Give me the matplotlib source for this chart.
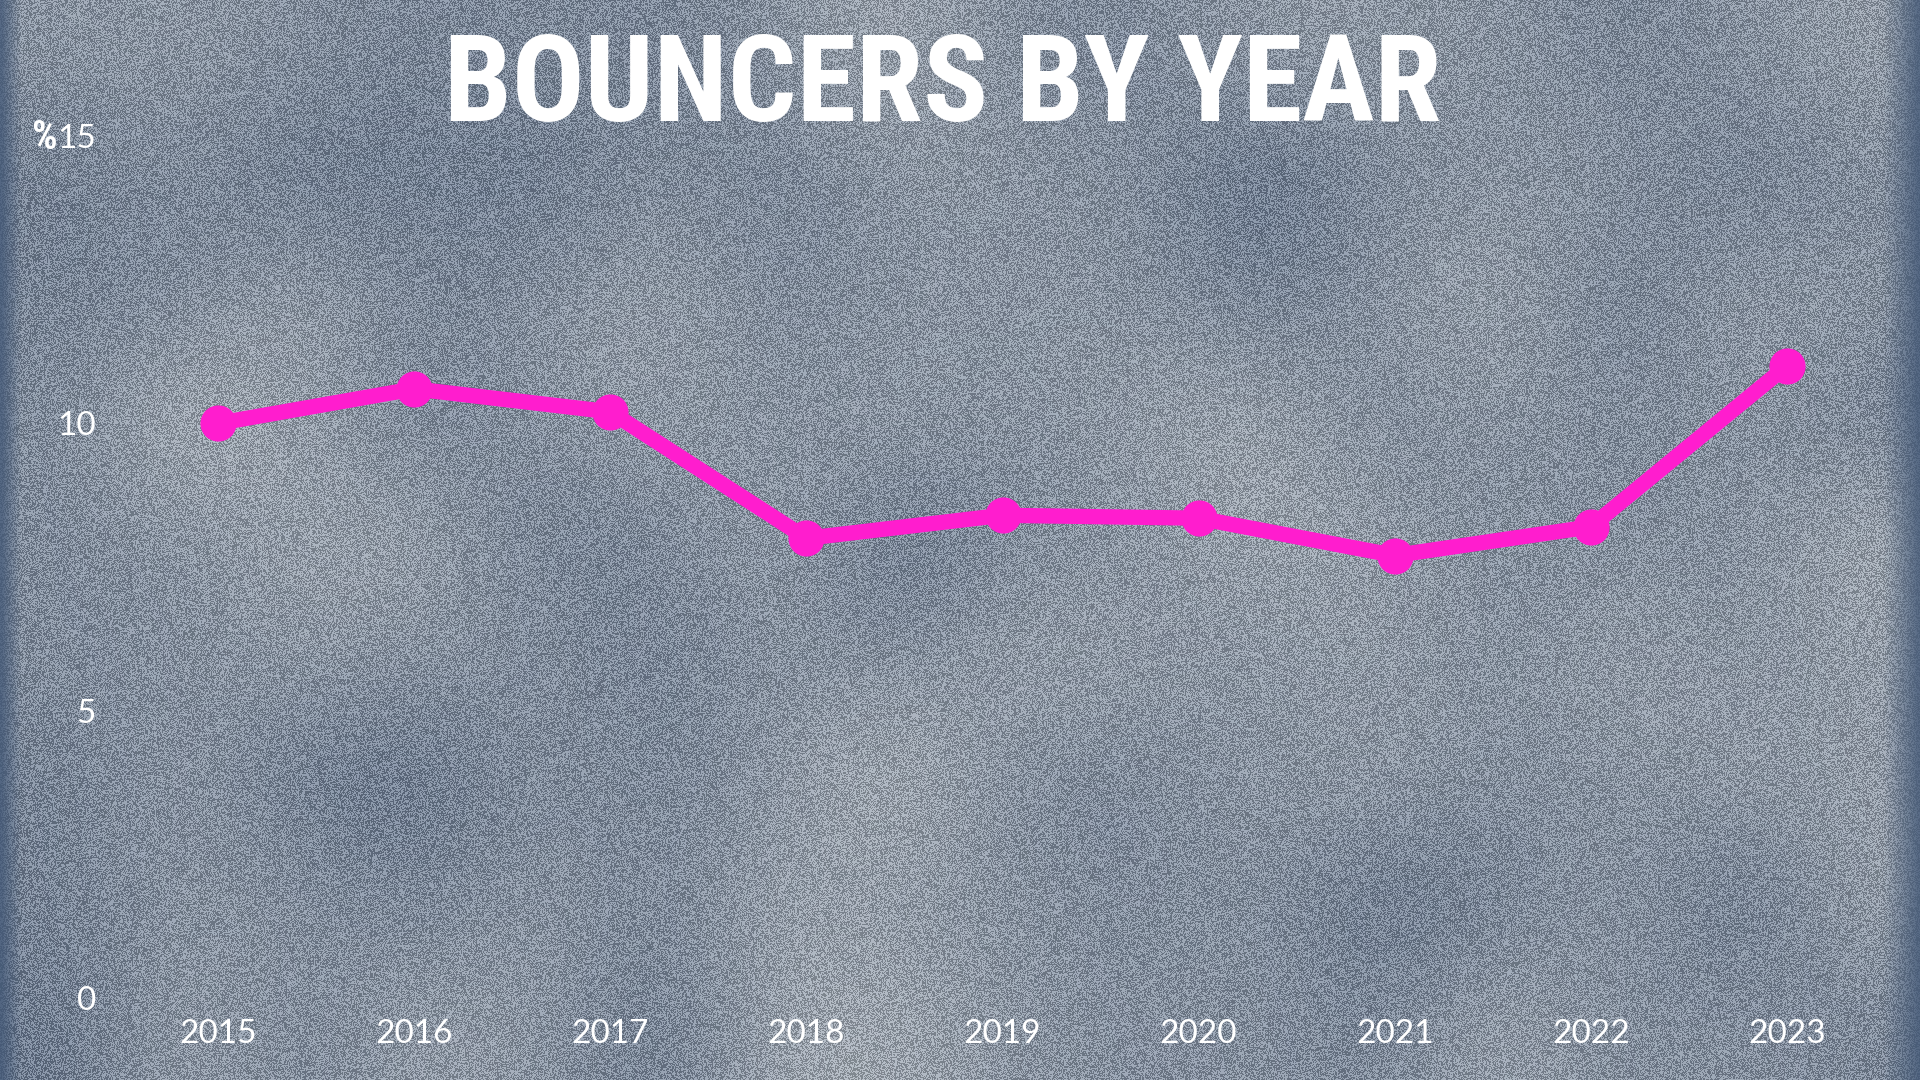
"""
Bouncers by year - line chart on a grungy slate background
"""
import numpy as np
import matplotlib
matplotlib.use('Agg')
import matplotlib.pyplot as plt

# ── Data ─────────────────────────────────────────────────────────────────────
years = ['2015', '2016', '2017', '2018', '2019', '2020', '2021', '2022', '2023']
bouncer_pct = [10.0, 10.6, 10.2, 8.0, 8.4, 8.35, 7.7, 8.2, 11.0]
y_ticks = [0, 5, 10, 15]

TITLE = 'BOUNCERS BY YEAR'
LINE_COLOR = '#ff1dce'
TEXT_COLOR = 'white'
TICK_FONT = ['Lato', 'Open Sans', 'DejaVu Sans']
TITLE_FONT = ['Liberation Sans Narrow', 'Roboto Condensed', 'DejaVu Sans Condensed',
              'Liberation Sans', 'DejaVu Sans']

plt.rcParams['font.family'] = TICK_FONT

W, H, DPI = 1920, 1080, 100
fig = plt.figure(figsize=(W / DPI, H / DPI), dpi=DPI)

# ── Background texture (decorative only) ─────────────────────────────────────
rng = np.random.default_rng(7)
bg = fig.add_axes([0, 0, 1, 1], zorder=0)
bg.set_axis_off()
clouds = rng.normal(0, 1, (9, 16))
light = np.array([0.70, 0.73, 0.76])
dark = np.array([0.30, 0.38, 0.50])
t = (clouds - clouds.min()) / (clouds.max() - clouds.min())
cloud_rgb = dark + (light - dark) * t[..., None]
bg.imshow(cloud_rgb, extent=[0, 1, 0, 1], aspect='auto', interpolation='bicubic')
grain = rng.random((H, W))
grain_rgba = np.zeros((H, W, 4))
grain_rgba[..., :3] = np.where(grain[..., None] > 0.5, 1.0, 0.2)
grain_rgba[..., 3] = 0.27
bg.imshow(grain_rgba, extent=[0, 1, 0, 1], aspect='auto', interpolation='nearest')
# darker side edges
xx = np.linspace(0, 1, 400)
edge = np.zeros((1, 400, 4))
edge[..., :3] = np.array([0.27, 0.35, 0.47])
edge[0, :, 3] = 0.8 * (np.clip(1 - xx / 0.01, 0, 1) + np.clip((xx - 0.982) / 0.018, 0, 1))
bg.imshow(edge, extent=[0, 1, 0, 1], aspect='auto', interpolation='bilinear')
bg.set_xlim(0, 1)
bg.set_ylim(0, 1)

# ── Chart ────────────────────────────────────────────────────────────────────
ax = fig.add_axes([100 / W, 82 / H, 1805 / W, 862 / H], zorder=1)
ax.patch.set_alpha(0)
x = np.arange(len(years))
ax.plot(x, bouncer_pct, color=LINE_COLOR, linewidth=11, marker='o',
        markersize=25, solid_capstyle='round', solid_joinstyle='round')

ax.set_xlim(-0.602, len(years) - 1 + 0.602)
ax.set_ylim(0, 15)
ax.set_xticks(x, years)
ax.set_yticks(y_ticks, [str(v) for v in y_ticks])
ax.tick_params(axis='both', length=0, labelsize=24, labelcolor=TEXT_COLOR)
ax.tick_params(axis='x', pad=15)
ax.tick_params(axis='y', pad=3)
for s in ax.spines.values():
    s.set_visible(False)

# percent sign next to the top tick
fig.text(57 / W, 1 - 138 / H, '%', family=TITLE_FONT, fontweight='bold',
         fontsize=29, color=TEXT_COLOR, ha='right', va='center')

fig.text(943 / W, 1 - 88 / H, TITLE, family=TITLE_FONT, fontweight='bold',
         fontsize=87, color=TEXT_COLOR, ha='center', va='center')

fig.savefig('out.png', dpi=DPI)
